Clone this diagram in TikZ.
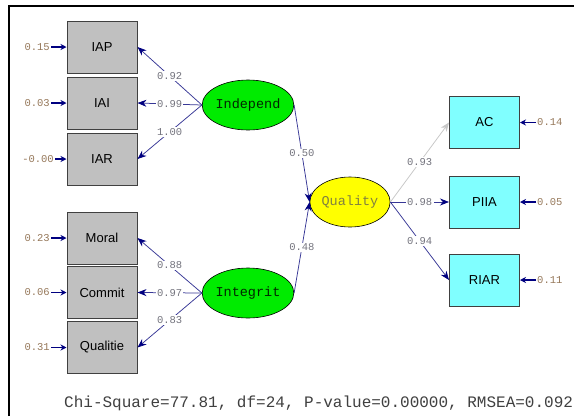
\documentclass[tikz,border=0pt]{standalone}
\usepackage{fontspec}
\setmainfont{Liberation Sans}
\newfontfamily\monof{Liberation Mono}
\usetikzlibrary{shapes.geometric,arrows.meta}
\definecolor{boxgray}{RGB}{192,192,192}
\definecolor{boxcyan}{RGB}{128,255,255}
\definecolor{ellgreen}{RGB}{0,235,0}
\definecolor{ellyellow}{RGB}{255,255,0}
\definecolor{pathblue}{RGB}{55,55,150}
\definecolor{headblue}{RGB}{0,0,128}
\definecolor{coefgray}{RGB}{115,115,125}
\definecolor{errbrown}{RGB}{150,120,90}
\definecolor{qualtext}{RGB}{128,128,64}
\begin{document}
\begin{tikzpicture}[x=1pt,y=-1pt,
  obs/.style={draw=black!75, line width=1pt, fill=boxgray, minimum width=70, minimum height=52, inner sep=0, font=\fontsize{13}{13}\selectfont},
  obsc/.style={obs, fill=boxcyan},
  lat/.style={ellipse, draw=black, line width=0.6pt, fill=ellgreen, minimum width=71, minimum height=50, inner sep=0, font=\monof\fontsize{13.5}{13.5}\selectfont, text=black!85!green},
  path/.style={draw=pathblue, line width=0.75pt, -{Stealth[length=9pt,width=7pt,fill=headblue,color=headblue]}},
  errarr/.style={draw=headblue, line width=1.3pt, -{Stealth[length=6pt,width=6pt]}},
  coef/.style={fill=white, inner sep=1.2pt, text=coefgray, font=\monof\fontsize{10.5}{10.5}\selectfont},
  errl/.style={inner sep=1pt, text=errbrown, font=\monof\fontsize{10.5}{10.5}\selectfont}]
\useasboundingbox (0,0) rectangle (574,416);
\fill[white] (0,0) rectangle (574,416);
\draw[line width=2pt] (9,416) -- (9,6) -- (574,6);

% observed boxes
\node[obs] (iap) at (102,47) {IAP};
\node[obs] (iai) at (102,103) {IAI};
\node[obs] (iar) at (102,159) {IAR};
\node[obs] (moral) at (102,238) {Moral};
\node[obs] (commit) at (102,292.5) {Commit};
\node[obs] (qualitie) at (102,347.5) {Qualitie};
\node[obsc] (ac) at (484.5,122.5) {AC};
\node[obsc] (piia) at (484.5,202) {PIIA};
\node[obsc] (riar) at (484.5,280) {RIAR};

% latent
\node[lat] (ind) at (248,105) {Independ};
\node[lat] (integ) at (248,293) {Integrit};
\node[lat, fill=ellyellow, text=qualtext] (qual) at (350,202) {Quality};

% loadings
\draw[path] (ind.west) -- node[coef]{0.92} (iap.east);
\draw[path] (ind.west) -- node[coef]{0.99} (iai.east);
\draw[path] (ind.west) -- node[coef]{1.00} (iar.east);
\draw[path] (integ.west) -- node[coef]{0.88} (moral.east);
\draw[path] (integ.west) -- node[coef]{0.97} (commit.east);
\draw[path] (integ.west) -- node[coef]{0.83} (qualitie.east);
\draw[path] (ind.east) -- node[coef]{0.50} (qual.west);
\draw[path] (integ.east) -- node[coef]{0.48} (qual.west);
\draw[path, draw=black!22, -{Stealth[length=9pt,width=7pt,color=black!22]}] (qual.east) -- node[coef]{0.93} (ac.west);
\draw[path] (qual.east) -- node[coef]{0.98} (piia.west);
\draw[path] (qual.east) -- node[coef]{0.94} (riar.west);

% error terms
\node[errl, anchor=east] (e1) at (51,47) {0.15};
\node[errl, anchor=east] (e2) at (51,103) {0.03};
\node[errl, anchor=east] (e3) at (55,159) {-0.00};
\node[errl, anchor=east] (e4) at (51,238) {0.23};
\node[errl, anchor=east] (e5) at (51,292.5) {0.06};
\node[errl, anchor=east] (e6) at (51,347.5) {0.31};
\node[errl, anchor=west] (e7) at (536,122.5) {0.14};
\node[errl, anchor=west] (e8) at (536,202) {0.05};
\node[errl, anchor=west] (e9) at (536,280) {0.11};
\draw[errarr] (e1.east) -- (iap.west);
\draw[errarr] (e2.east) -- (iai.west);
\draw[errarr] (e3.east) -- (iar.west);
\draw[errarr] (e4.east) -- (moral.west);
\draw[errarr] (e5.east) -- (commit.west);
\draw[errarr] (e6.east) -- (qualitie.west);
\draw[errarr] (e7.west) -- (ac.east);
\draw[errarr] (e8.west) -- (piia.east);
\draw[errarr] (e9.west) -- (riar.east);

\node[anchor=west, inner sep=0, text=black!75, font=\monof\fontsize{16}{16}\selectfont] (fit) at (64,403) {Chi-Square=77.81, df=24, P-value=0.00000, RMSEA=0.092};
\end{tikzpicture}
\end{document}
